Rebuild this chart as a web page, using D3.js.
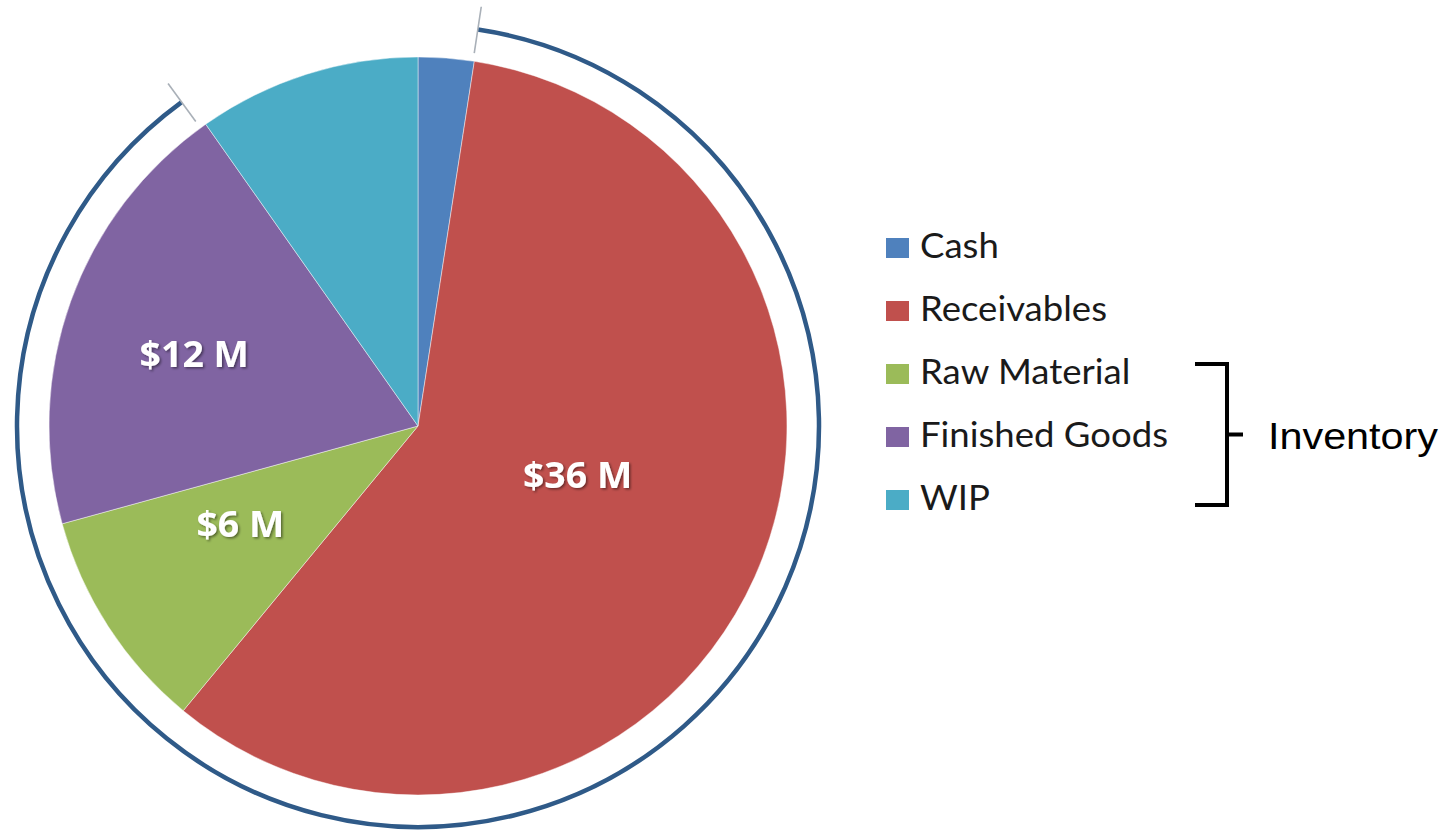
<!DOCTYPE html>
<html>
<head>
<meta charset="utf-8">
<script src="https://cdn.jsdelivr.net/npm/d3@7/dist/d3.min.js"></script>
<style>
  html, body { margin: 0; padding: 0; background: #ffffff; }
  svg { display: block; }
</style>
</head>
<body>
<svg id="chart" width="1452" height="831"></svg>
<script>
// ---- data ----
const categories = ["Cash", "Receivables", "Raw Material", "Finished Goods", "WIP"];
const values = [1.5, 36, 6, 12, 6];            // $ millions
const colors = ["#4f81bd", "#c0504d", "#9bbb59", "#8064a2", "#4bacc6"];
const sliceLabels = ["", "$36 M", "$6 M", "$12 M", ""];
const groupLabel = "Inventory";
const inventoryMembers = ["Raw Material", "Finished Goods", "WIP"];

// ---- layout ----
const svg = d3.select("#chart");
const cx = 418, cy = 426, R = 369;
const defs = svg.append("defs");
const f = defs.append("filter").attr("id", "shadow").attr("x", "-20%").attr("y", "-20%").attr("width", "140%").attr("height", "140%");
f.append("feDropShadow").attr("dx", 1.5).attr("dy", 1.5).attr("stdDeviation", 1.2)
  .attr("flood-color", "#000").attr("flood-opacity", 0.45);

const data = categories.map((c, i) => ({ name: c, value: values[i], color: colors[i], label: sliceLabels[i] }));
const pie = d3.pie().value(d => d.value).sort(null);
const arcs = pie(data);
const arc = d3.arc().innerRadius(0).outerRadius(R);

const g = svg.append("g").attr("transform", `translate(${cx},${cy})`);
g.selectAll("path.slice").data(arcs).enter().append("path")
  .attr("class", "slice")
  .attr("d", arc)
  .attr("fill", d => d.data.color)
  .attr("stroke", "rgba(255,255,255,0.45)")
  .attr("stroke-width", 1);

// label placement (angle offset in degrees from slice mid, radius)
const labelPlace = {
  "Receivables": { da: -7, r: 167 },
  "Raw Material": { da: 4, r: 203 },
  "Finished Goods": { da: -2, r: 235 }
};
g.selectAll("text.val").data(arcs.filter(d => d.data.label)).enter().append("text")
  .attr("class", "val")
  .attr("transform", d => {
    const p = labelPlace[d.data.name];
    const a = (d.startAngle + d.endAngle) / 2 + p.da * Math.PI / 180;
    return `translate(${p.r * Math.sin(a)},${-p.r * Math.cos(a)}) scale(1.07,1)`;
  })
  .attr("text-anchor", "middle")
  .attr("dy", "0.36em")
  .attr("font-family", "'Open Sans', sans-serif")
  .attr("font-weight", "bold")
  .attr("font-size", 35)
  .attr("fill", "#ffffff")
  .attr("filter", "url(#shadow)")
  .text(d => d.data.label);

// outer bracket arc covering Receivables..Finished Goods
const rArc = 401;
const startA = arcs[1].startAngle - 0.2 * Math.PI / 180;
const endA = arcs[3].endAngle - 1.0 * Math.PI / 180;
g.append("path")
  .attr("d", d3.arc().innerRadius(rArc).outerRadius(rArc)({ startAngle: startA, endAngle: endA }))
  .attr("fill", "none")
  .attr("stroke", "#2f5a88")
  .attr("stroke-width", 4.5);
[startA, endA].forEach(a => {
  g.append("line")
    .attr("x1", 377 * Math.sin(a)).attr("y1", -377 * Math.cos(a))
    .attr("x2", 424 * Math.sin(a)).attr("y2", -424 * Math.cos(a))
    .attr("stroke", "#a9b0b8").attr("stroke-width", 1.6);
});

// ---- legend ----
const legendY = d3.scalePoint().domain(categories).range([248, 500]);
const lg = svg.append("g");
const items = lg.selectAll("g.item").data(data).enter().append("g")
  .attr("class", "item")
  .attr("transform", d => `translate(886,${legendY(d.name)})`);
items.append("rect").attr("x", 0).attr("y", -10).attr("width", 23).attr("height", 20).attr("fill", d => d.color);
items.append("text")
  .attr("transform", "translate(34,10) scale(1.075,1)")
  .attr("font-family", "Lato, sans-serif")
  .attr("font-size", 34)
  .attr("fill", "#1a1a1a")
  .text(d => d.name);

// ---- inventory bracket ----
const yTop = legendY(inventoryMembers[0]) - 10;
const yBot = legendY(inventoryMembers[inventoryMembers.length - 1]) + 5;
const yMid = (yTop + yBot) / 2;
const bx = 1227;
svg.append("path")
  .attr("d", `M1195,${yTop}H${bx}V${yBot}H1195M${bx},${yMid}H1243`)
  .attr("fill", "none").attr("stroke", "#000").attr("stroke-width", 4);
svg.append("text")
  .attr("x", 1268).attr("y", yMid + 14)
  .attr("font-family", "'Liberation Sans', Arial, sans-serif")
  .attr("font-size", 36)
  .attr("textLength", 170)
  .attr("lengthAdjust", "spacingAndGlyphs")
  .attr("fill", "#000")
  .text(groupLabel);
</script>
</body>
</html>
